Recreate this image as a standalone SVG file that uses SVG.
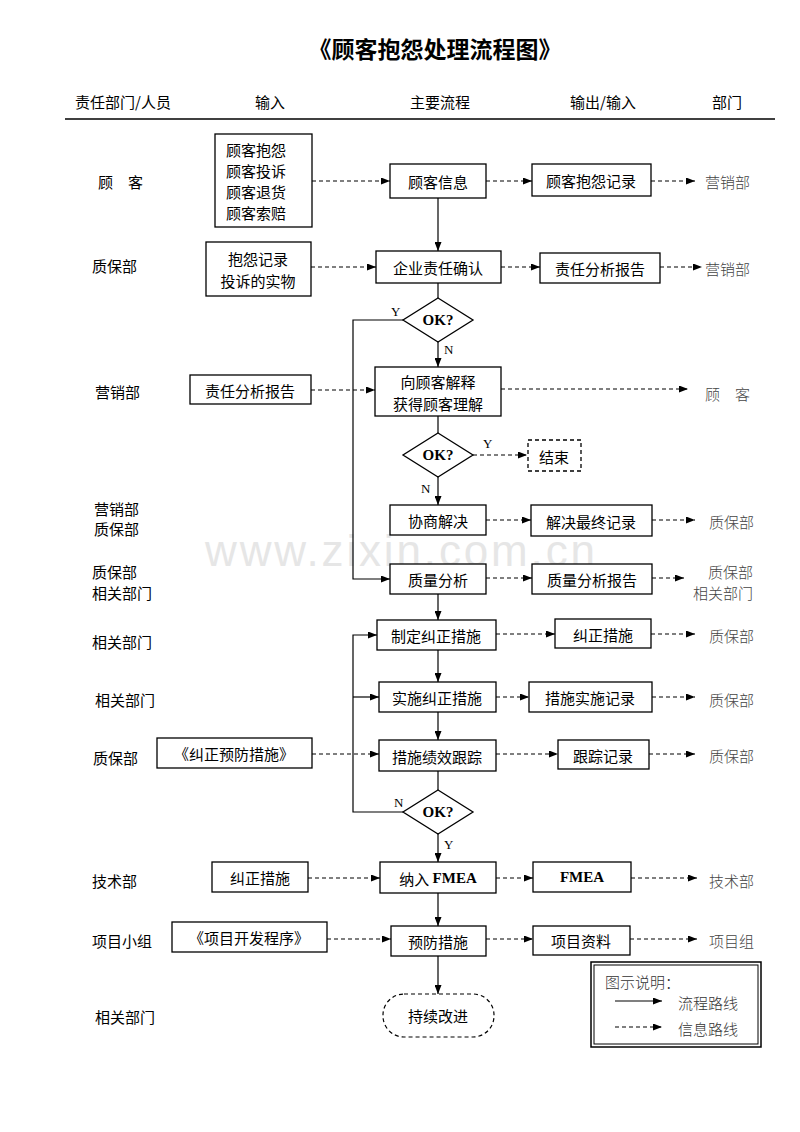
<svg xmlns="http://www.w3.org/2000/svg" width="800" height="1132" viewBox="0 0 800 1132">
<style>
.bx{fill:#fff;stroke:#000;stroke-width:1.3}
.t{font-family:"Noto Sans CJK SC","Liberation Sans",sans-serif;font-size:15px;fill:#000;text-anchor:middle;dominant-baseline:central}
.l{font-family:"Noto Sans CJK SC","Liberation Sans",sans-serif;font-size:15px;fill:#000;dominant-baseline:central}
.r{font-family:"Noto Sans CJK SC","Liberation Sans",sans-serif;font-size:15px;fill:#444;font-weight:300;dominant-baseline:central}
.ok{font-family:"Liberation Serif",serif;font-weight:bold;font-size:15px;text-anchor:middle;dominant-baseline:central}
.yn{font-family:"Liberation Serif",serif;font-size:13px;dominant-baseline:central}
.s{fill:none;stroke:#000;stroke-width:1.2}
.d{fill:none;stroke:#000;stroke-width:1.2;stroke-dasharray:4 3}
</style>
<defs>
<marker id="a" markerUnits="userSpaceOnUse" markerWidth="9" markerHeight="7" refX="9" refY="3.5" orient="auto"><path d="M0,0 L9,3.5 L0,7 z" fill="#000"/></marker>
</defs>
<text x="205" y="550" font-family="Liberation Sans,sans-serif" font-size="44" fill="#e6e6e6" textLength="390" dominant-baseline="central">www.zixin.com.cn</text>
<g id="title">
<text x="435" y="48" class="t" style="font-size:23px;font-weight:bold">《顾客抱怨处理流程图》</text>
</g>
<g id="header">
<text x="123" y="101" class="t">责任部门/人员</text>
<text x="270" y="101" class="t">输入</text>
<text x="440" y="101" class="t">主要流程</text>
<text x="603" y="101" class="t">输出/输入</text>
<text x="727" y="101" class="t">部门</text>
<line x1="65" y1="119" x2="775" y2="119" stroke="#000" stroke-width="1.5"/>
</g>
<g id="lanes">
<text x="98" y="181" class="l">顾　客</text>
<text x="92" y="265" class="l">质保部</text>
<text x="95" y="391" class="l">营销部</text>
<text x="94" y="508" class="l">营销部</text>
<text x="94" y="528" class="l">质保部</text>
<text x="92" y="571" class="l">质保部</text>
<text x="92" y="592" class="l">相关部门</text>
<text x="92" y="641" class="l">相关部门</text>
<text x="95" y="699" class="l">相关部门</text>
<text x="93" y="757" class="l">质保部</text>
<text x="92" y="880" class="l">技术部</text>
<text x="92" y="940" class="l">项目小组</text>
<text x="95" y="1016" class="l">相关部门</text>
</g>
<g id="depts">
<text x="705" y="181" class="r">营销部</text>
<text x="705" y="268" class="r">营销部</text>
<text x="705" y="393" class="r">顾　客</text>
<text x="709" y="521" class="r">质保部</text>
<text x="708" y="571" class="r">质保部</text>
<text x="693" y="592" class="r">相关部门</text>
<text x="709" y="635" class="r">质保部</text>
<text x="709" y="699" class="r">质保部</text>
<text x="709" y="755" class="r">质保部</text>
<text x="709" y="880" class="r">技术部</text>
<text x="709" y="940" class="r">项目组</text>
</g>
<g id="connectors">
<line x1="312" y1="181" x2="390" y2="181" class="d" marker-end="url(#a)"/>
<line x1="486" y1="181" x2="532" y2="181" class="d" marker-end="url(#a)"/>
<line x1="651" y1="181" x2="695" y2="181" class="d" marker-end="url(#a)"/>
<line x1="438" y1="198" x2="438" y2="251" class="s" marker-end="url(#a)"/>
<line x1="311" y1="267" x2="376" y2="267" class="d" marker-end="url(#a)"/>
<line x1="501" y1="267" x2="540" y2="267" class="d" marker-end="url(#a)"/>
<line x1="660" y1="267" x2="702" y2="267" class="d" marker-end="url(#a)"/>
<line x1="438" y1="283" x2="438" y2="298" class="s"/>
<polyline points="403,320 353,320 353,579 390,579" class="s" marker-end="url(#a)"/>
<line x1="438" y1="342" x2="438" y2="367" class="s" marker-end="url(#a)"/>
<line x1="311" y1="390" x2="375" y2="390" class="d" marker-end="url(#a)"/>
<line x1="501" y1="389" x2="688" y2="389" class="d" marker-end="url(#a)"/>
<line x1="438" y1="416" x2="438" y2="433" class="s"/>
<line x1="473" y1="455" x2="527" y2="455" class="d" marker-end="url(#a)"/>
<line x1="438" y1="477" x2="438" y2="505" class="s" marker-end="url(#a)"/>
<line x1="486" y1="520" x2="531" y2="520" class="d" marker-end="url(#a)"/>
<line x1="652" y1="520" x2="695" y2="520" class="d" marker-end="url(#a)"/>
<line x1="486" y1="578" x2="532" y2="578" class="d" marker-end="url(#a)"/>
<line x1="652" y1="578" x2="684" y2="578" class="d" marker-end="url(#a)"/>
<line x1="438" y1="594" x2="438" y2="620" class="s" marker-end="url(#a)"/>
<line x1="496" y1="634" x2="555" y2="634" class="d" marker-end="url(#a)"/>
<line x1="651" y1="634" x2="695" y2="634" class="d" marker-end="url(#a)"/>
<line x1="438" y1="650" x2="438" y2="682" class="s" marker-end="url(#a)"/>
<line x1="496" y1="697" x2="529" y2="697" class="d" marker-end="url(#a)"/>
<line x1="652" y1="697" x2="695" y2="697" class="d" marker-end="url(#a)"/>
<line x1="438" y1="712" x2="438" y2="740" class="s" marker-end="url(#a)"/>
<line x1="312" y1="754" x2="379" y2="754" class="d" marker-end="url(#a)"/>
<line x1="496" y1="754" x2="558" y2="754" class="d" marker-end="url(#a)"/>
<line x1="649" y1="754" x2="695" y2="754" class="d" marker-end="url(#a)"/>
<line x1="438" y1="771" x2="438" y2="790" class="s"/>
<polyline points="403,812 353,812 353,635 377,635" class="s" marker-end="url(#a)"/>
<line x1="353" y1="697" x2="379" y2="697" class="s" marker-end="url(#a)"/>
<line x1="438" y1="834" x2="438" y2="862" class="s" marker-end="url(#a)"/>
<line x1="308" y1="878" x2="380" y2="878" class="d" marker-end="url(#a)"/>
<line x1="496" y1="878" x2="533" y2="878" class="d" marker-end="url(#a)"/>
<line x1="631" y1="878" x2="697" y2="878" class="d" marker-end="url(#a)"/>
<line x1="438" y1="893" x2="438" y2="926" class="s" marker-end="url(#a)"/>
<line x1="327" y1="939" x2="391" y2="939" class="d" marker-end="url(#a)"/>
<line x1="486" y1="939" x2="533" y2="939" class="d" marker-end="url(#a)"/>
<line x1="630" y1="939" x2="697" y2="939" class="d" marker-end="url(#a)"/>
<line x1="438" y1="956" x2="438" y2="994" class="s" marker-end="url(#a)"/>
<text x="391" y="311" class="yn">Y</text>
<text x="444" y="349" class="yn">N</text>
<text x="483" y="443" class="yn">Y</text>
<text x="421" y="488" class="yn">N</text>
<text x="394" y="802" class="yn">N</text>
<text x="444" y="844" class="yn">Y</text>
</g>
<g id="n_in1"><rect x="215" y="134" width="97" height="93" class="bx"/>
<text x="226" y="149" class="l">顾客抱怨</text><text x="226" y="170" class="l">顾客投诉</text><text x="226" y="191" class="l">顾客退货</text><text x="226" y="212" class="l">顾客索赔</text></g>
<g id="n_info"><rect x="390" y="164" width="96" height="34" class="bx"/><text x="438" y="181" class="t">顾客信息</text></g>
<g id="n_rec1"><rect x="532" y="164" width="119" height="32" class="bx"/><text x="591" y="180" class="t">顾客抱怨记录</text></g>
<g id="n_in2"><rect x="206" y="242" width="105" height="54" class="bx"/><text x="258" y="258" class="t">抱怨记录</text><text x="258" y="280" class="t">投诉的实物</text></g>
<g id="n_confirm"><rect x="376" y="251" width="125" height="32" class="bx"/><text x="438" y="267" class="t">企业责任确认</text></g>
<g id="n_rep1"><rect x="540" y="253" width="120" height="30" class="bx"/><text x="600" y="268" class="t">责任分析报告</text></g>
<g id="n_ok1"><polygon points="438,298 473,320 438,342 403,320" class="bx"/><text x="438" y="320" class="ok">OK?</text></g>
<g id="n_in3"><rect x="190" y="375" width="121" height="29" class="bx"/><text x="250" y="390" class="t">责任分析报告</text></g>
<g id="n_explain"><rect x="375" y="367" width="126" height="49" class="bx"/><text x="438" y="381" class="t">向顾客解释</text><text x="438" y="403" class="t">获得顾客理解</text></g>
<g id="n_ok2"><polygon points="438,433 473,455 438,477 403,455" class="bx"/><text x="438" y="455" class="ok">OK?</text></g>
<g id="n_end"><rect x="528" y="440" width="53" height="31" fill="#fff" stroke="#000" stroke-width="1.3" stroke-dasharray="4 3"/><text x="554" y="456" class="t">结束</text></g>
<g id="n_nego"><rect x="390" y="505" width="96" height="30" class="bx"/><text x="438" y="520" class="t">协商解决</text></g>
<g id="n_final"><rect x="531" y="505" width="121" height="31" class="bx"/><text x="591" y="521" class="t">解决最终记录</text></g>
<g id="n_qa"><rect x="390" y="564" width="96" height="30" class="bx"/><text x="438" y="579" class="t">质量分析</text></g>
<g id="n_qrep"><rect x="532" y="564" width="120" height="30" class="bx"/><text x="592" y="579" class="t">质量分析报告</text></g>
<g id="n_plan"><rect x="377" y="620" width="119" height="30" class="bx"/><text x="436" y="635" class="t">制定纠正措施</text></g>
<g id="n_corr"><rect x="555" y="619" width="96" height="29" class="bx"/><text x="603" y="634" class="t">纠正措施</text></g>
<g id="n_impl"><rect x="379" y="682" width="117" height="30" class="bx"/><text x="437" y="697" class="t">实施纠正措施</text></g>
<g id="n_implrec"><rect x="529" y="682" width="123" height="30" class="bx"/><text x="590" y="697" class="t">措施实施记录</text></g>
<g id="n_in4"><rect x="157" y="738" width="155" height="30" class="bx"/><text x="234" y="753" class="t">《纠正预防措施》</text></g>
<g id="n_track"><rect x="379" y="740" width="117" height="31" class="bx"/><text x="437" y="756" class="t">措施绩效跟踪</text></g>
<g id="n_trackrec"><rect x="558" y="740" width="91" height="29" class="bx"/><text x="603" y="755" class="t">跟踪记录</text></g>
<g id="n_ok3"><polygon points="438,790 473,812 438,834 403,812" class="bx"/><text x="438" y="812" class="ok">OK?</text></g>
<g id="n_in5"><rect x="212" y="862" width="96" height="30" class="bx"/><text x="260" y="877" class="t">纠正措施</text></g>
<g id="n_fmea"><rect x="380" y="862" width="116" height="31" class="bx"/><text x="438" y="878" class="t">纳入 <tspan style="font-family:'Liberation Serif',serif;font-weight:bold">FMEA</tspan></text></g>
<g id="n_fmea2"><rect x="533" y="862" width="98" height="30" class="bx"/><text x="582" y="877" class="ok">FMEA</text></g>
<g id="n_in6"><rect x="172" y="922" width="155" height="30" class="bx"/><text x="249" y="937" class="t">《项目开发程序》</text></g>
<g id="n_prev"><rect x="391" y="926" width="95" height="30" class="bx"/><text x="438" y="941" class="t">预防措施</text></g>
<g id="n_proj"><rect x="533" y="926" width="97" height="29" class="bx"/><text x="581" y="940" class="t">项目资料</text></g>
<g id="n_cont"><rect x="383" y="994" width="111" height="43" rx="21" fill="#fff" stroke="#000" stroke-width="1.2" stroke-dasharray="4 3"/><text x="438" y="1015" class="t">持续改进</text></g>
<g id="legend">
<rect x="591" y="962" width="170" height="85" fill="#fff" stroke="#000" stroke-width="1.5"/>
<rect x="594" y="965" width="164" height="79" fill="none" stroke="#000" stroke-width="1"/>
<text x="605" y="981" class="r" style="fill:#333">图示说明：</text>
<line x1="615" y1="1001" x2="662" y2="1001" class="s" marker-end="url(#a)"/>
<text x="678" y="1002" class="r" style="fill:#333">流程路线</text>
<line x1="615" y1="1027" x2="662" y2="1027" class="d" marker-end="url(#a)"/>
<text x="678" y="1028" class="r" style="fill:#333">信息路线</text>
</g>
</svg>
